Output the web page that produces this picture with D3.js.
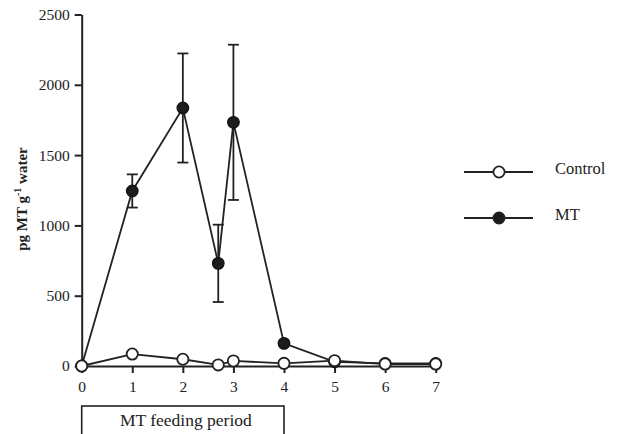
<!DOCTYPE html>
<html>
<head>
<meta charset="utf-8">
<script src="https://cdn.jsdelivr.net/npm/d3@7/dist/d3.min.js"></script>
<style>
  html, body { margin: 0; padding: 0; background: #fff; }
  svg { display: block; }
  text { font-family: "Liberation Serif", "Times New Roman", serif; fill: #222; }
</style>
</head>
<body>
<svg id="chart" width="617" height="434"></svg>
<script>
// Sampling days (x axis)
const days = [0, 1, 2, 2.7, 3, 4, 5, 6, 7];
// Control group, pg MT per g water
const controlValues = [0, 85, 48, 8, 36, 19, 38, 14, 14];
// MT-fed group, pg MT per g water
const mtValues = [0, 1245, 1835, 730, 1733, 161, 30, 18, 18];
// Standard error for MT group (0 = no bar drawn)
const mtErrors = [0, 118, 388, 275, 552, 0, 0, 0, 0];
// Axis ticks
const xTicks = [0, 1, 2, 3, 4, 5, 6, 7];
const yTicks = [0, 500, 1000, 1500, 2000, 2500];
// Legend entries
const seriesNames = ["Control", "MT"];
const periodLabel = "MT feeding period";

const svg = d3.select("#chart");
const ink = "#222";
const serif = "Liberation Serif";

const x = d3.scaleLinear().domain([0, 7]).range([81.7, 435.7]);
const y = d3.scaleLinear().domain([0, 2500]).range([366, 14.5]);

// Y axis
const yAxis = svg.append("g")
  .attr("transform", `translate(${x(0)},0)`)
  .call(d3.axisLeft(y).tickValues(yTicks).tickSize(7).tickSizeOuter(0).tickPadding(5).tickFormat(d3.format("d")));
yAxis.attr("font-family", serif);
yAxis.select(".domain").attr("stroke", ink).attr("stroke-width", 2);
yAxis.selectAll(".tick line").attr("stroke", ink).attr("stroke-width", 2);
yAxis.selectAll(".tick text").attr("font-size", 15.5).attr("font-family", serif).attr("fill", ink);

// X axis
const xAxis = svg.append("g")
  .attr("transform", `translate(0,${y(0)})`)
  .call(d3.axisBottom(x).tickValues(xTicks).tickSize(7).tickSizeOuter(0).tickPadding(8).tickFormat(d3.format("d")));
xAxis.attr("font-family", serif);
xAxis.select(".domain").attr("stroke", ink).attr("stroke-width", 2);
xAxis.selectAll(".tick line").attr("stroke", ink).attr("stroke-width", 2);
xAxis.selectAll(".tick text").attr("font-size", 15.5).attr("font-family", serif).attr("fill", ink);

// Y axis title
const title = svg.append("text")
  .attr("transform", `translate(27,${(145 + 253) / 2}) rotate(-90)`)
  .attr("text-anchor", "middle")
  .attr("font-family", serif)
  .attr("font-weight", "bold")
  .attr("font-size", 15);
title.append("tspan").text("pg MT g");
title.append("tspan").attr("font-size", 10).attr("dy", -6).text("-1");
title.append("tspan").attr("dy", 6).text(" water");

const line = d3.line().x((d, i) => x(days[i])).y(d => y(d));

// MT error bars
const errData = mtValues.map((v, i) => ({ day: days[i], v, e: mtErrors[i] })).filter(d => d.e > 0);
const errG = svg.append("g").attr("stroke", ink).attr("stroke-width", 1.8);
errG.selectAll("line.whisker").data(errData).join("line")
  .attr("x1", d => x(d.day)).attr("x2", d => x(d.day))
  .attr("y1", d => y(d.v - d.e)).attr("y2", d => y(d.v + d.e));
errG.selectAll("line.capHi").data(errData).join("line")
  .attr("x1", d => x(d.day) - 5.5).attr("x2", d => x(d.day) + 5.5)
  .attr("y1", d => y(d.v + d.e)).attr("y2", d => y(d.v + d.e));
errG.selectAll("line.capLo").data(errData).join("line")
  .attr("x1", d => x(d.day) - 5.5).attr("x2", d => x(d.day) + 5.5)
  .attr("y1", d => y(d.v - d.e)).attr("y2", d => y(d.v - d.e));

// MT line and markers
svg.append("path").datum(mtValues)
  .attr("d", line).attr("fill", "none").attr("stroke", ink).attr("stroke-width", 1.8);
svg.append("g").selectAll("circle").data(mtValues).join("circle")
  .attr("cx", (d, i) => x(days[i])).attr("cy", d => y(d)).attr("r", 5.8)
  .attr("fill", "#1c1c1c").attr("stroke", "#111").attr("stroke-width", 1.2);

// Control line and markers
svg.append("path").datum(controlValues)
  .attr("d", line).attr("fill", "none").attr("stroke", ink).attr("stroke-width", 1.8);
svg.append("g").selectAll("circle").data(controlValues).join("circle")
  .attr("cx", (d, i) => x(days[i])).attr("cy", d => y(d)).attr("r", 5.6)
  .attr("fill", "#fff").attr("stroke", ink).attr("stroke-width", 1.8);

// Legend
const legendRows = [
  { name: seriesNames[0], fill: "#fff", ly: 172, ty: 174 },
  { name: seriesNames[1], fill: "#1c1c1c", ly: 218, ty: 220 }
];
const lg = svg.append("g");
legendRows.forEach(r => {
  lg.append("line").attr("x1", 464).attr("x2", 533).attr("y1", r.ly).attr("y2", r.ly)
    .attr("stroke", ink).attr("stroke-width", 1.8);
  lg.append("circle").attr("cx", 499).attr("cy", r.ly).attr("r", 5.6)
    .attr("fill", r.fill).attr("stroke", ink).attr("stroke-width", 1.8);
  lg.append("text").attr("x", 555).attr("y", r.ty).attr("font-family", serif)
    .attr("font-size", 16.5).text(r.name);
});

// Feeding period box beneath the x axis (days 0 to 4)
svg.append("rect")
  .attr("x", x(0)).attr("y", 406)
  .attr("width", x(4) - x(0)).attr("height", 34)
  .attr("fill", "none").attr("stroke", ink).attr("stroke-width", 1.6);
svg.append("text")
  .attr("x", (x(0) + x(4)) / 2 + 3).attr("y", 425.5)
  .attr("text-anchor", "middle").attr("font-family", serif).attr("font-size", 17.5)
  .text(periodLabel);
</script>
</body>
</html>
